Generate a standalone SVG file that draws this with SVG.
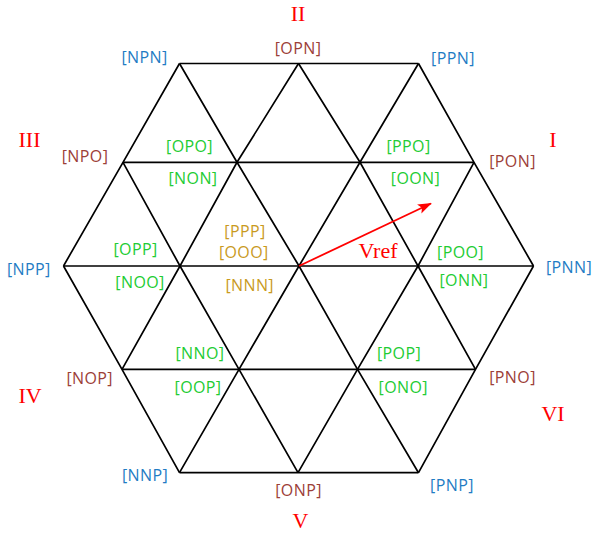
<svg xmlns="http://www.w3.org/2000/svg" width="593" height="535" viewBox="0 0 593 535">
<defs>
<style>
.g{fill:none;stroke:#000;stroke-width:1.7;stroke-linejoin:miter}
.l{font-family:"Open Sans","Liberation Sans",sans-serif;font-size:16px;letter-spacing:0.4px;text-anchor:middle}
.b{fill:#1f7cc4}.r{fill:#9c4038}.gr{fill:#22cc33}.y{fill:#c99a1e}
.s{font-family:"Liberation Serif","Times New Roman",serif;font-size:22px;fill:#ff0000;text-anchor:middle}
</style>
<marker id="ah" markerWidth="14" markerHeight="10" refX="13" refY="5" orient="auto" markerUnits="userSpaceOnUse">
<path d="M0,0 L14,5 L0,10 L3,5 Z" fill="#ff0000"/>
</marker>
</defs>
<rect width="593" height="535" fill="#fff"/>
<g id="connectors">
<polyline class="g" points="179.5,63.5 418.5,63.5"/>
<polyline class="g" points="123,162.3 474,162.3"/>
<polyline class="g" points="63.5,266 533.5,266"/>
<polyline class="g" points="122,369.3 475.5,369.3"/>
<polyline class="g" points="179.5,472.7 418.5,472.7"/>
<polyline class="g" points="63.5,266 123,162.3 179.5,63.5"/>
<polyline class="g" points="122,369.3 180,266 237,162.3 298.5,63.5"/>
<polyline class="g" points="179.5,472.7 239,369.3 299,266 360,162.3 418.5,63.5"/>
<polyline class="g" points="298,472.7 357.5,369.3 418,266 474,162.3"/>
<polyline class="g" points="418.5,472.7 475.5,369.3 533.5,266"/>
<polyline class="g" points="179.5,63.5 237,162.3 299,266 357.5,369.3 418.5,472.7"/>
<polyline class="g" points="123,162.3 180,266 239,369.3 298,472.7"/>
<polyline class="g" points="63.5,266 122,369.3 179.5,472.7"/>
<polyline class="g" points="298.5,63.5 360,162.3 418,266 475.5,369.3"/>
<polyline class="g" points="418.5,63.5 474,162.3 533.5,266"/>
<line x1="299" y1="266" x2="431" y2="203.5" stroke="#ff0000" stroke-width="1.8" marker-end="url(#ah)"/>
</g>
<g id="sectors">
<text class="s" x="298" y="20.7">II</text>
<text class="s" x="29.5" y="147.3">III</text>
<text class="s" x="553" y="147.3">I</text>
<text class="s" x="30" y="402.7">IV</text>
<text class="s" x="553" y="421">VI</text>
<text class="s" x="300.5" y="527.7">V</text>
<text class="s" x="378" y="258.3">Vref</text>
</g>
<g id="n-NPN"><text class="l b" x="144.5" y="62.5">[NPN]</text></g>
<g id="n-OPN"><text class="l r" x="298" y="53.5">[OPN]</text></g>
<g id="n-PPN"><text class="l b" x="453" y="64">[PPN]</text></g>
<g id="n-NPO"><text class="l r" x="85" y="161.7">[NPO]</text></g>
<g id="n-OPO"><text class="l gr" x="189.5" y="152.3">[OPO]</text></g>
<g id="n-NON"><text class="l gr" x="193" y="184.3">[NON]</text></g>
<g id="n-PPO"><text class="l gr" x="408.5" y="152.3">[PPO]</text></g>
<g id="n-OON"><text class="l gr" x="415.5" y="184.3">[OON]</text></g>
<g id="n-PON"><text class="l r" x="512.5" y="167.3">[PON]</text></g>
<g id="n-NPP"><text class="l b" x="28.8" y="275">[NPP]</text></g>
<g id="n-OPP"><text class="l gr" x="135.5" y="255">[OPP]</text></g>
<g id="n-NOO"><text class="l gr" x="140" y="288.3">[NOO]</text></g>
<g id="n-PPP"><text class="l y" x="245" y="236.7">[PPP]</text></g>
<g id="n-OOO"><text class="l y" x="243.8" y="258.3">[OOO]</text></g>
<g id="n-NNN"><text class="l y" x="249.7" y="290.7">[NNN]</text></g>
<g id="n-POO"><text class="l gr" x="460.5" y="258.3">[POO]</text></g>
<g id="n-ONN"><text class="l gr" x="464" y="285.7">[ONN]</text></g>
<g id="n-PNN"><text class="l b" x="569" y="273.3">[PNN]</text></g>
<g id="n-NNO"><text class="l gr" x="200" y="359">[NNO]</text></g>
<g id="n-NOP"><text class="l r" x="89.7" y="384.3">[NOP]</text></g>
<g id="n-OOP"><text class="l gr" x="198" y="392.7">[OOP]</text></g>
<g id="n-POP"><text class="l gr" x="399" y="359">[POP]</text></g>
<g id="n-ONO"><text class="l gr" x="403.3" y="392.7">[ONO]</text></g>
<g id="n-PNO"><text class="l r" x="512.5" y="382.7">[PNO]</text></g>
<g id="n-NNP"><text class="l b" x="145" y="481">[NNP]</text></g>
<g id="n-ONP"><text class="l r" x="298.5" y="496">[ONP]</text></g>
<g id="n-PNP"><text class="l b" x="452" y="491">[PNP]</text></g>
</svg>
